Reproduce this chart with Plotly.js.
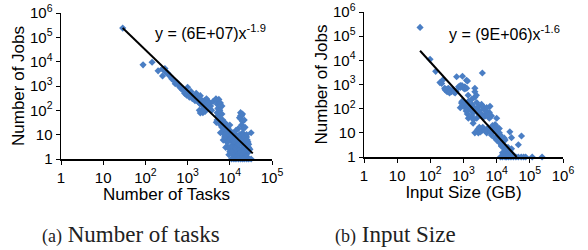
<!DOCTYPE html>
<html><head><meta charset="utf-8">
<script src="https://cdn.plot.ly/plotly-3.0.1.min.js"></script>
<style>html,body{margin:0;padding:0;background:#fff}#c{width:588px;height:250px}</style>
</head><body><div id="c"></div>
<script>
// (a) Number of tasks
const tasksX = [29,88,144,200,255,250,280,300,330,350,380,290,510,420,480,550,600,650,700,750,800,900,1000,1100,1200,1300,1500,1700,1900,
 850,950,1100,1300,1500,1800,2000,1200,1600,2000,2000,1900,2300,2600,2300,
 3000,3300,3500,3000,4000,3700,3200,5000,5000,5200,5000,5200,5000,4800,
 6200,6500,7000,7500,8000,8500,9000,10000,6000,7000,8000,9500,7500,6800,10500,
 18000,19000,18000,20000,19000,21000,20000,18000,21000,19000,20000,17000,32000,
 11000,12000,13000,14000,15000,16000,12000,14000,22000,24000,26000,28000,30000,25000,27000,13000,23000,
 1800,2000,2200,2500,2700,3000,2400,2800,1900,3100,
 4700,5500,6000,6500,5800,6500,5500,6800,6000,
 6800,7200,7800,8500,9000,9500,10000,10500,11000,11500,12000,12500,13000,13500,14000,15000,15500,16000,17000,18000,19000,20000,21000,22000,24000,26000,
 9000,8000,7500,10000,11000,12000,9500,13000,15000,17000,16000,14000,10000,
 18000,20000,22000,23000,21000,24000,23000,25000,27000,28000,26000,
 11000,12500,14000,16000,18000,20000,22000,25000,28000,32000];
const tasksJobs = [240000,7400,9500,4200,2600,5000,4500,3800,3500,3000,2600,5200,1250,2000,1600,1400,1100,900,800,700,650,600,890,500,450,420,380,350,300,
 500,420,350,300,250,220,180,600,500,400,78,100,110,90,80,
 250,200,150,120,230,100,180,250,180,120,80,60,40,32,
 30,20,15,10,7,5,3,2,12,6,3,8,25,40,12,
 80,60,45,35,25,18,12,8,6,4,2.5,50,12,
 6,4,8,3,5,2,2.2,10,5,3,2,4,2.5,8,1.8,1.8,1.5,
 250,300,200,250,170,150,140,300,200,200,
 300,280,200,150,100,70,50,35,25,
 25,18,30,14,20,10,15,7,10,5,12,3,5,2.5,6,3.5,1.5,4,2.5,1.8,1.3,1.5,3,2,1.3,1.2,
 5,10,8,3,2,1.5,1.5,1.2,1.2,10,18,15,25,
 60,70,40,20,10,5,8,10,5,3,6,
 1,1,1,1,1,1,1,1,1,1];
const tasksFitX = [29, 35000];
const tasksFitY = [240000, 1.7];

// (b) Input size
const sizeX = [49,98,145,195,245,620,930,1320,3700,
 280,330,380,430,500,560,600,300,710,800,1000,1100,1400,1800,2200,2200,
 1000,1200,1500,1800,2000,2500,2800,3000,3500,4000,4500,5000,6000,1300,800,900,2500,
 6300,10000,2200,2800,3500,4000,5000,6000,1950,
 6500,7000,8000,9000,10000,11000,12000,14000,16000,18000,20000,13000,7500,
 25000,28000,56000,45000,28000,25000,22000,
 2200,1230,220,290,320,350,400,450,520,380,270,800,900,1100,1250,1380,2450,870,
 950,1100,1300,1500,1700,2000,2300,2600,1200,1800,
 3500,4000,4500,5000,6000,7000,4000,5500,1400,1800,2000,
 2700,3200,3800,4500,5500,7000,8500,10000,12000,3000,
 9000,10000,12000,13000,11000,13000,15000,17000,19000,14000,
 15000,18000,21000,25000,30000,17000,
 13000,15000,18000,20000,23000,27000,32000,38000,45000,55000,65000,75000,118000,234000];
const sizeJobs = [230000,11000,3500,1200,1600,2100,2200,1400,3000,
 600,650,550,500,600,450,520,580,800,900,700,650,200,250,500,300,
 150,100,120,90,70,180,120,80,60,100,50,70,40,60,110,200,40,
 125,40,10,10,12,15,10,13,25,
 10,8,12,6,5,9,4,3,2.5,5,2,7,20,
 11,6.3,7.4,3.2,2.2,1.6,2.5,
 700,1500,1100,650,500,700,600,550,480,450,700,750,900,800,700,360,360,170,
 130,160,140,100,80,120,90,70,80,150,
 150,120,90,110,70,50,45,55,40,50,35,
 14,11,17,12,16,11,14,12,10,17,
 22,18,15,8,6.5,5,3.5,6,2.6,2.8,
 1.5,2,1.4,1.8,1.3,1.3,
 1,1,1,1,1,1,1,1,1,1,1,1,1,1];
const sizeFitX = [49, 40000];
const sizeFitY = [25000, 1];

const yTickVals = [1,10,100,1000,10000,100000,1000000];
const yTickText = ['1','10','10<sup>2</sup>','10<sup>3</sup>','10<sup>4</sup>','10<sup>5</sup>','10<sup>6</sup>'];
const xTickValsA = [1,10,100,1000,10000,100000];
const xTickTextA = ['1','10','10<sup>2</sup>','10<sup>3</sup>','10<sup>4</sup>','10<sup>5</sup>'];
const xTickValsB = [1,10,100,1000,10000,100000,1000000];
const xTickTextB = ['1','10','10<sup>2</sup>','10<sup>3</sup>','10<sup>4</sup>','10<sup>5</sup>','10<sup>6</sup>'];

const blue = '#4a7ec4';
const mk = {symbol:'diamond', size:5.5, color:blue};
const traces = [
 {x:tasksX, y:tasksJobs, type:'scatter', mode:'markers', marker:mk, xaxis:'x', yaxis:'y', cliponaxis:false},
 {x:tasksFitX, y:tasksFitY, type:'scatter', mode:'lines', line:{color:'#000', width:2}, xaxis:'x', yaxis:'y'},
 {x:sizeX, y:sizeJobs, type:'scatter', mode:'markers', marker:mk, xaxis:'x2', yaxis:'y2', cliponaxis:false},
 {x:sizeFitX, y:sizeFitY, type:'scatter', mode:'lines', line:{color:'#000', width:2}, xaxis:'x2', yaxis:'y2'}
];
const tf = {family:'Liberation Sans, Arial, sans-serif', size:15, color:'#000'};
const ttl = {family:'Liberation Sans, Arial, sans-serif', size:17, color:'#000'};
const eqf = {family:'Liberation Sans, Arial, sans-serif', size:16, color:'#000'};
const ax = {type:'log', showgrid:false, zeroline:false, showline:true, linecolor:'#000', linewidth:1.5,
  ticks:'outside', ticklen:4, tickwidth:1, tickcolor:'#000', tickfont:tf, tickmode:'array'};
const layout = {
 width:588, height:250, margin:{l:0,r:0,t:0,b:0}, showlegend:false,
 paper_bgcolor:'#fff', plot_bgcolor:'#fff',
 xaxis:Object.assign({}, ax, {domain:[61/588, 272/588], range:[0,5], tickvals:xTickValsA, ticktext:xTickTextA, anchor:'y',
   title:{text:'Number of Tasks', font:ttl, standoff:0}}),
 yaxis:Object.assign({}, ax, {domain:[(250-159)/250, (250-13)/250], range:[0,6], tickvals:yTickVals, ticktext:yTickText, anchor:'x',
   title:{text:'Number of Jobs', font:ttl, standoff:1}}),
 xaxis2:Object.assign({}, ax, {domain:[364/588, 563/588], range:[0,6], tickvals:xTickValsB, ticktext:xTickTextB, anchor:'y2',
   title:{text:'Input Size (GB)', font:ttl, standoff:0}}),
 yaxis2:Object.assign({}, ax, {domain:[(250-157)/250, (250-12)/250], range:[0,6], tickvals:yTickVals, ticktext:yTickText, anchor:'x2',
   title:{text:'Number of Jobs', font:ttl, standoff:1}}),
 annotations:[
  {xref:'paper', yref:'paper', x:153/588, y:(250-32)/250, xanchor:'left', yanchor:'middle', showarrow:false,
   text:'y = (6E+07)x<sup>-1.9</sup>', font:eqf},
  {xref:'paper', yref:'paper', x:447/588, y:(250-33)/250, xanchor:'left', yanchor:'middle', showarrow:false,
   text:'y = (9E+06)x<sup>-1.6</sup>', font:eqf},
  {xref:'paper', yref:'paper', x:40/588, y:(250-234)/250, xanchor:'left', yanchor:'middle', showarrow:false,
   text:'<span style="font-size:18px">(a)</span> Number of tasks', font:{family:'Liberation Serif, serif', size:23, color:'#222'}},
  {xref:'paper', yref:'paper', x:333/588, y:(250-234)/250, xanchor:'left', yanchor:'middle', showarrow:false,
   text:'<span style="font-size:18px">(b)</span> Input Size', font:{family:'Liberation Serif, serif', size:23, color:'#222'}}
 ]
};
Plotly.newPlot('c', traces, layout, {staticPlot:true, displayModeBar:false});
</script></body></html>
